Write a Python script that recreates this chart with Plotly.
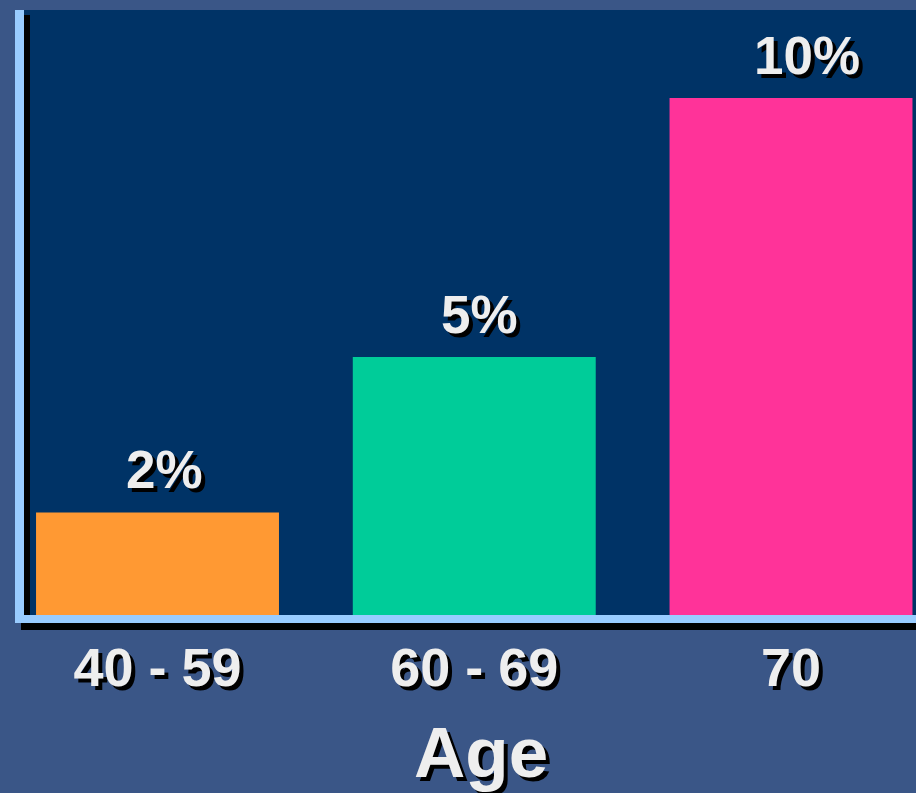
import plotly.graph_objects as go

categories = ["40 - 59", "60 - 69", "70"]
values = [2, 5, 10]
labels = ["2%", "5%", "10%"]
bar_colors = ["#FF9933", "#00CC99", "#FF3399"]
label_xshift = [7, 5, 16]

W, H = 916, 793
L, R, T, B = 24, 0, 10, 177
pw, ph = W - L - R, H - T - B

def px_x(p):
    return (p - L) / pw

def px_y(p):
    return (H - B - p) / ph

FONT = "Liberation Sans, Arial, sans-serif"
SHADOW = "4px 4px 0px #000000"
TXT = "#EEEEEE"

fig = go.Figure()
fig.add_trace(go.Bar(
    x=categories, y=values,
    marker=dict(color=bar_colors, line=dict(width=0)),
    width=0.767,
    hoverinfo="skip",
))

for i, (v, t) in enumerate(zip(values, labels)):
    fig.add_annotation(
        x=i, y=v, text=f"<b>{t}</b>", showarrow=False,
        yanchor="bottom", yshift=11, xshift=label_xshift[i],
        font=dict(family=FONT, size=53, color=TXT, shadow=SHADOW),
    )

# axis title
fig.add_annotation(
    x=px_x(481), y=px_y(752), xref="paper", yref="paper",
    text="<b>Age</b>", showarrow=False, xanchor="center", yanchor="middle",
    font=dict(family=FONT, size=71, color=TXT, shadow=SHADOW),
)

shapes = [
    # black shadows
    dict(type="rect", xref="paper", yref="paper",
         x0=px_x(24), x1=px_x(30), y0=px_y(616), y1=px_y(15),
         fillcolor="#000000", line=dict(width=0), layer="above"),
    dict(type="rect", xref="paper", yref="paper",
         x0=px_x(21), x1=1.0, y0=px_y(630), y1=px_y(623),
         fillcolor="#000000", line=dict(width=0), layer="above"),
    # light-blue axis lines
    dict(type="rect", xref="paper", yref="paper",
         x0=px_x(15), x1=px_x(24), y0=px_y(623), y1=px_y(10),
         fillcolor="#99CCFF", line=dict(width=0), layer="above"),
    dict(type="rect", xref="paper", yref="paper",
         x0=px_x(15), x1=1.0, y0=px_y(623), y1=px_y(615),
         fillcolor="#99CCFF", line=dict(width=0), layer="above"),
]

fig.update_layout(
    width=W, height=H,
    margin=dict(l=L, r=R, t=T, b=B, pad=0),
    paper_bgcolor="#3A5687",
    plot_bgcolor="#003366",
    showlegend=False,
    shapes=shapes,
    bargap=0.233,
    xaxis=dict(
        type="category",
        range=[-0.4215, 2.3946],
        showgrid=False, zeroline=False, showline=False,
        ticks="", ticklabelstandoff=15,
        tickfont=dict(family=FONT, size=54, color=TXT, shadow=SHADOW, weight="bold"),
        fixedrange=True,
    ),
    yaxis=dict(
        range=[0, 11.7],
        showgrid=False, zeroline=False, showline=False,
        showticklabels=False, ticks="",
        fixedrange=True,
    ),
)

fig.write_html(
    "out.html",
    config={"displayModeBar": False},
    post_script="document.body.style.margin='0';document.body.style.padding='0';",
)
